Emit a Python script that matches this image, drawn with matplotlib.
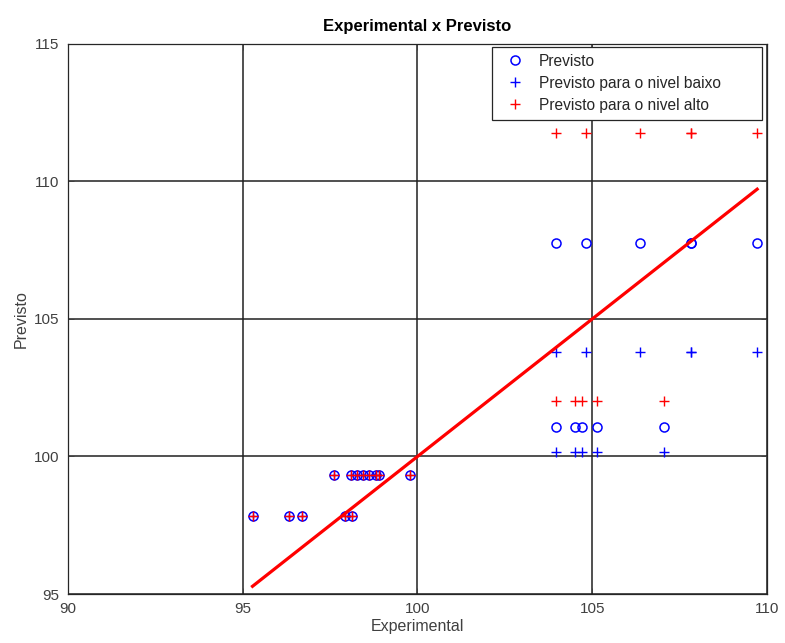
import matplotlib.pyplot as plt
import numpy as np

plt.rcParams['font.family'] = ['Liberation Sans', 'DejaVu Sans']

# experimental response and the values predicted by the model
experimental = [95.28, 96.31, 96.71, 97.94, 98.14,
                97.60, 98.11, 98.26, 98.43, 98.60, 98.80, 98.91, 99.79,
                103.95, 104.52, 104.72, 105.15, 107.05,
                103.96, 104.82, 106.36, 107.82, 107.82, 109.72]
previsto = [97.84, 97.84, 97.84, 97.84, 97.84,
            99.33, 99.33, 99.33, 99.33, 99.33, 99.33, 99.33, 99.33,
            101.08, 101.08, 101.08, 101.08, 101.08,
            107.77, 107.77, 107.77, 107.77, 107.77, 107.77]
nivel_baixo = [97.84, 97.84, 97.84, 97.84, 97.84,
               99.33, 99.33, 99.33, 99.33, 99.33, 99.33, 99.33, 99.33,
               100.17, 100.17, 100.17, 100.17, 100.17,
               103.80, 103.80, 103.80, 103.80, 103.80, 103.80]
nivel_alto = [97.84, 97.84, 97.84, 97.84, 97.84,
              99.33, 99.33, 99.33, 99.33, 99.33, 99.33, 99.33, 99.33,
              102.02, 102.02, 102.02, 102.02, 102.02,
              111.75, 111.75, 111.75, 111.75, 111.75, 111.75]

fig = plt.figure(figsize=(7.85, 6.43), dpi=100)
ax = fig.add_axes([0.0866, 0.0762, 0.8904, 0.8554])

ax.plot(experimental, previsto, 'o', color='#0000ff', mfc='none',
        markersize=6.5, markeredgewidth=1.1, label='Previsto')
ax.plot(experimental, nivel_baixo, '+', color='#0000ff',
        markersize=7, markeredgewidth=1.0, label='Previsto para o nivel baixo')
ax.plot(experimental, nivel_alto, '+', color='#ff0000',
        markersize=7, markeredgewidth=1.0, label='Previsto para o nivel alto')

# reta y = x entre o menor e o maior valor experimental
lo, hi = min(experimental), max(experimental)
ax.plot([lo, hi], [lo, hi], '-', color='#ff0000', linewidth=2.3)

ax.set_xlim(90, 110)
ax.set_ylim(95, 115)
ax.set_xticks(np.arange(90, 111, 5))
ax.set_yticks(np.arange(95, 116, 5))
ax.grid(True, color='#202020', linewidth=1.1)
ax.set_axisbelow(True)
ax.tick_params(direction='in', top=True, right=True, labelsize=11,
               colors='#404040', length=4, width=0.7, pad=6)
for s in ax.spines.values():
    s.set_color('#262626')
    s.set_linewidth(0.9)

ax.set_title('Experimental x Previsto', fontsize=12, fontweight='bold', pad=9)
ax.set_xlabel('Experimental', fontsize=11.5, color='#404040', labelpad=2)
ax.set_ylabel('Previsto', fontsize=11.5, color='#404040', labelpad=4)

# caixa da legenda mais larga que o texto, alinhada ao canto superior direito
leg = ax.legend(loc='upper left', bbox_to_anchor=(0.6066, 0.995, 0.3863, 0),
                mode='expand', borderaxespad=0, fontsize=11.2, fancybox=False,
                framealpha=1, handlelength=2.0, handletextpad=0.55,
                borderpad=0.45, labelspacing=0.45)
leg.get_frame().set_edgecolor('#262626')
leg.get_frame().set_linewidth(0.9)
for t in leg.get_texts():
    t.set_color('#262626')

fig.savefig('out.png', dpi=100)
